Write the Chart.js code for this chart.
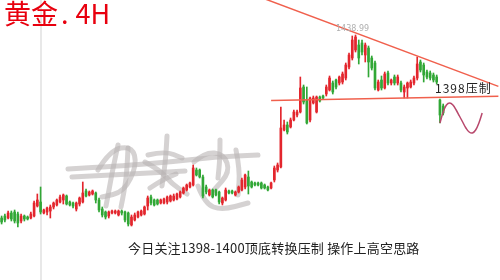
<!DOCTYPE html>
<html>
<head>
<meta charset="utf-8">
<script src="https://cdn.jsdelivr.net/npm/chart.js@4"></script>
<style>
  html, body { margin: 0; padding: 0; background: #fff; }
  #wrap { position: relative; width: 500px; height: 280px; overflow: hidden; }
  .txt { position: absolute; white-space: nowrap; }
  #title { left: 4px; top: -7px; font: 27px "Noto Sans CJK SC", sans-serif; color: #e8000e; }
  #title .dot { margin: 0 7px 0 3px; }
  #resist { left: 435px; top: 79px; font: 12px "Noto Sans CJK SC", sans-serif; color: #222; letter-spacing: 1px; }
  #note { left: 128px; top: 238px; font: 13px "Noto Sans CJK SC", sans-serif; color: #222; letter-spacing: 0.2px; }
</style>
</head>
<body>
<div id="wrap">
  <canvas id="chart"></canvas>
  <div class="txt" id="title">黄金<span class="dot">.</span>4H</div>
  <div class="txt" id="resist">1398压制</div>
  <div class="txt" id="note">今日关注1398-1400顶底转换压制 操作上高空思路</div>
</div>
<script>
// 4H candles
const opens = [1329.2,1330.4,1329.2,1332.2,1332.8,1331.6,1327.4,1330.4,1329.8,1329.2,
  1330.4,1336.4,1338.8,1332.2,1332.8,1333.4,1335.8,1337,1338.8,1340,
  1342.4,1338.8,1338.2,1334.6,1337.6,1338.8,1345.4,1343,1343.6,1344.2,
  1340,1334.6,1332.8,1330.4,1332.2,1332.2,1331,1333.4,1332.8,1332.2,
  1325,1328,1329.8,1331,1331.6,1336.4,1341.8,1340,1340,1338.2,
  1338.2,1338.8,1339.4,1340,1340.6,1341.8,1344.2,1346,1347.8,1349,
  1358,1358,1353.8,1347.8,1343,1346,1346,1344.8,1338.2,1340,
  1345.4,1345.4,1343,1344.8,1346,1347.8,1353.8,1350.8,1350.2,1350.2,
  1350.2,1349,1347.8,1347.2,1352,1358,1359.8,1382,1385,1383.8,
  1388,1391,1392.8,1407.8,1400,1388,1398.2,1392.8,1401.8,1402.4,
  1403.6,1406,1410.2,1412,1410.2,1410.8,1413.2,1419.8,1425.2,1430,
  1433,1434.2,1427,1431.2,1425.2,1422.2,1406,1412,1407.2,1416.2,
  1410.2,1413.8,1410.2,1410.2,1404.8,1407.2,1407.8,1410.2,1413.2,1422.8,
  1421,1416.8,1416.2,1415,1413.8,1400,1396.4];
const highs = [1330.4,1331.6,1333.4,1333.4,1334,1332.8,1331.6,1331,1330.4,1332.8,
  1339.4,1343.6,1347.8,1334.6,1335.8,1337,1338.8,1340.6,1343,1343.6,
  1343,1339.4,1338.8,1338.8,1341.8,1350.8,1346.6,1345.4,1346,1344.8,
  1341.2,1335.8,1333.4,1333.4,1334,1334,1334,1334,1333.4,1332.8,
  1331,1332.2,1333.4,1334,1336.4,1342.4,1343,1340.6,1340.6,1340.6,
  1341.2,1342.4,1343,1343.6,1344.2,1345.4,1347.8,1349.6,1350.8,1361,
  1359.2,1358.6,1355,1349,1346.6,1346.6,1346.6,1345.4,1341.8,1347.2,
  1346,1346,1345.4,1348.4,1353.2,1355.6,1357.4,1351.4,1350.8,1350.8,
  1350.8,1349.6,1348.4,1350.8,1360.4,1362.2,1395.8,1388,1386.8,1389.2,
  1394,1394,1413.8,1409,1407.8,1401.8,1402.4,1402.4,1402.4,1403,
  1409,1414.4,1411.4,1412.6,1414.4,1416.8,1422.2,1428.2,1438.4,1438.99,
  1436,1436,1434.2,1432.4,1426.4,1423.4,1412,1414.4,1416.8,1417.4,
  1412.6,1415,1415,1411.4,1409,1410.8,1412,1414.4,1425.8,1424,
  1422.2,1418,1417.4,1416.2,1415,1400.6,1397.6];
const lows = [1325.6,1326.8,1328.6,1327.4,1326.2,1323.8,1326.2,1327.4,1328,1328.6,
  1329.8,1335.8,1331.6,1331.6,1331,1329.2,1334.6,1336.4,1338.2,1337.6,
  1337,1336.4,1335.2,1333.4,1336.4,1338.2,1341.8,1342.4,1343,1338.2,
  1332.8,1329.8,1328.6,1329.2,1331.6,1331.6,1330.4,1331,1326.8,1324.4,
  1324.4,1327.4,1329.2,1330.4,1331,1334,1337,1336.4,1337,1337.6,
  1337.6,1337.6,1338.8,1339.4,1340,1341.2,1343.6,1345.4,1347.2,1348.4,
  1354.4,1353.2,1341.2,1343.6,1342.4,1341.2,1342.4,1337.6,1337,1339.4,
  1343.6,1343.6,1342.4,1344.2,1345.4,1346.6,1343.6,1347.2,1348.4,1348.4,
  1346.6,1346.6,1345.4,1346.6,1350.8,1356.8,1359.2,1381.4,1379.6,1383.2,
  1387.4,1389.8,1392.2,1397.6,1385.6,1386.8,1397.6,1392.2,1398.8,1400.6,
  1402.4,1405.4,1403.6,1406.6,1409,1409.6,1412,1418.6,1424,1428.8,
  1421.6,1427,1422.8,1413.8,1418,1406,1405.4,1406,1406.6,1409,
  1409,1409,1409,1404.8,1401.2,1401.2,1407.2,1409,1412,1416.8,
  1410.8,1412.6,1412,1410.8,1409.6,1386.2,1391];
const closes = [1326.8,1328,1332.2,1328.6,1327.4,1326.2,1330.4,1328.6,1328.6,1331.6,
  1338.2,1340,1332.8,1334,1335.2,1335.8,1338.2,1340,1341.8,1343,
  1337.6,1337,1336.4,1338.2,1341.2,1344.2,1342.4,1344.8,1345.4,1340,
  1334,1331,1329.8,1332.8,1333.4,1333.4,1333.4,1332.2,1328,1325.6,
  1329.8,1331,1332.8,1333.4,1335.8,1341.2,1338.2,1337,1337.6,1340,
  1340.6,1341.8,1342.4,1342.4,1343.6,1344.8,1347.2,1349,1350.2,1359.2,
  1355,1353.8,1342.4,1344.8,1346,1341.8,1343,1338.8,1341.2,1346,
  1344.2,1344.2,1344.8,1347.8,1352,1355,1348.4,1347.8,1349,1349,
  1347.2,1347.2,1346,1350.2,1359.2,1361,1383.2,1385,1380.8,1388,
  1392.8,1392.8,1407.2,1398.8,1386.2,1401.2,1401.2,1401.8,1399.4,1401.2,
  1407.8,1413.2,1404.8,1407.8,1413.8,1415.6,1421,1427,1436,1437.8,
  1425.2,1428.8,1433,1422.8,1419.2,1407.2,1410.8,1407.2,1415.6,1410.2,
  1412,1410.2,1413.8,1406,1407.8,1410.2,1410.8,1413.2,1421.6,1418,
  1415,1413.8,1413.2,1412,1410.8,1391,1392.2];

const slotCount = 154;
const bars = Array.from({ length: slotCount }, (_, i) => String(i + 1));

// drawn lines: [bar index, price]
const downTrend = [[78, 1462.9], [153, 1408.2]];
const flatLine = [[83, 1399.7], [153, 1402.3]];
const waveStart = 135;
const wave = [1386.2, 1392.8, 1397, 1398.2, 1397, 1394, 1390.4, 1386.8, 1383.2, 1380.8, 1380.2, 1382, 1386.2, 1392.2];

const crossBar = 12;   // grey vertical marker
const peakLabel = '1438.99';

const UP = '#e3262d', DOWN = '#31a736';
const colors = opens.map((o, i) => closes[i] >= o ? UP : DOWN);

function lineData(pts) {
  const d = new Array(slotCount).fill(null);
  pts.forEach(([i, v]) => d[i] = v);
  return d;
}
const waveData = new Array(slotCount).fill(null);
wave.forEach((v, i) => waveData[waveStart + i] = v);

// faint hand signature watermark behind the candles
function drawSignature(ctx) {
  ctx.save();
  ctx.strokeStyle = 'rgba(185,180,180,0.6)';
  ctx.lineCap = 'round';
  ctx.lineJoin = 'round';
  ctx.lineWidth = 5;
  const strokes = [
    [[68, 169], [120, 166], [170, 162], [215, 157], [258, 155]],
    [[72, 177], [110, 175], [150, 173], [185, 171]],
    [[118, 145], [113, 168], [109, 190], [106, 206]],
    [[128, 148], [127, 172], [124, 192], [121, 207]],
    [[98, 170], [110, 150], [132, 146], [137, 165], [124, 192], [102, 197]],
    [[167, 136], [166, 155], [164, 172], [162, 186]],
    [[145, 162], [160, 170], [172, 184], [187, 194]],
    [[148, 155], [165, 151], [182, 158]],
    [[150, 188], [162, 180], [176, 174]],
    [[220, 140], [220, 158], [218, 178]],
    [[194, 162], [205, 152], [224, 154], [230, 172], [214, 190]],
    [[198, 186], [205, 204], [222, 210], [248, 203]],
    [[236, 150], [240, 170], [238, 195]]
  ];
  strokes.forEach(pts => {
    ctx.beginPath();
    ctx.moveTo(pts[0][0], pts[0][1]);
    for (let i = 1; i < pts.length - 1; i++) {
      const mx = (pts[i][0] + pts[i + 1][0]) / 2, my = (pts[i][1] + pts[i + 1][1]) / 2;
      ctx.quadraticCurveTo(pts[i][0], pts[i][1], mx, my);
    }
    const last = pts[pts.length - 1];
    ctx.lineTo(last[0], last[1]);
    ctx.stroke();
  });
  ctx.restore();
}

const decor = {
  id: 'decor',
  beforeDatasetsDraw(chart) {
    const { ctx, chartArea, scales } = chart;
    const x = scales.x.getPixelForValue(crossBar);
    ctx.save();
    ctx.fillStyle = '#e8e8e8';
    ctx.fillRect(Math.round(x) - 1, chartArea.top, 2, chartArea.bottom - chartArea.top);
    ctx.restore();
    drawSignature(ctx);
  },
  afterDatasetsDraw(chart) {
    const { ctx, scales } = chart;
    const top = highs.indexOf(Math.max(...highs));
    ctx.save();
    ctx.font = '8px "DejaVu Sans", sans-serif';
    ctx.fillStyle = '#b0b0b0';
    ctx.textAlign = 'center';
    ctx.textBaseline = 'bottom';
    ctx.fillText(peakLabel, scales.x.getPixelForValue(top) - 3, scales.y.getPixelForValue(highs[top]) - 2);
    ctx.restore();
  }
};

new Chart(document.getElementById('chart'), {
  type: 'bar',
  data: {
    labels: bars,
    datasets: [
      { type: 'line', data: lineData(downTrend), borderColor: '#f0604d', borderWidth: 1.5, pointRadius: 0, spanGaps: true },
      { type: 'line', data: lineData(flatLine), borderColor: '#f0604d', borderWidth: 1.5, pointRadius: 0, spanGaps: true },
      { type: 'line', data: waveData, borderColor: '#b8486c', borderWidth: 1.5, pointRadius: 0, tension: 0.4 },
      { data: opens.map((o, i) => [o, closes[i]]), backgroundColor: colors, barThickness: 2, grouped: false },
      { data: highs.map((h, i) => [lows[i], h]), backgroundColor: colors, barThickness: 1, grouped: false }
    ]
  },
  options: {
    responsive: true,
    maintainAspectRatio: false,
    animation: false,
    layout: { padding: 0 },
    plugins: { legend: { display: false }, tooltip: { enabled: false } },
    scales: {
      x: { display: false, offset: true },
      y: { display: false, min: 1292, max: 1460 }
    }
  },
  plugins: [decor]
});
</script>
</body>
</html>
